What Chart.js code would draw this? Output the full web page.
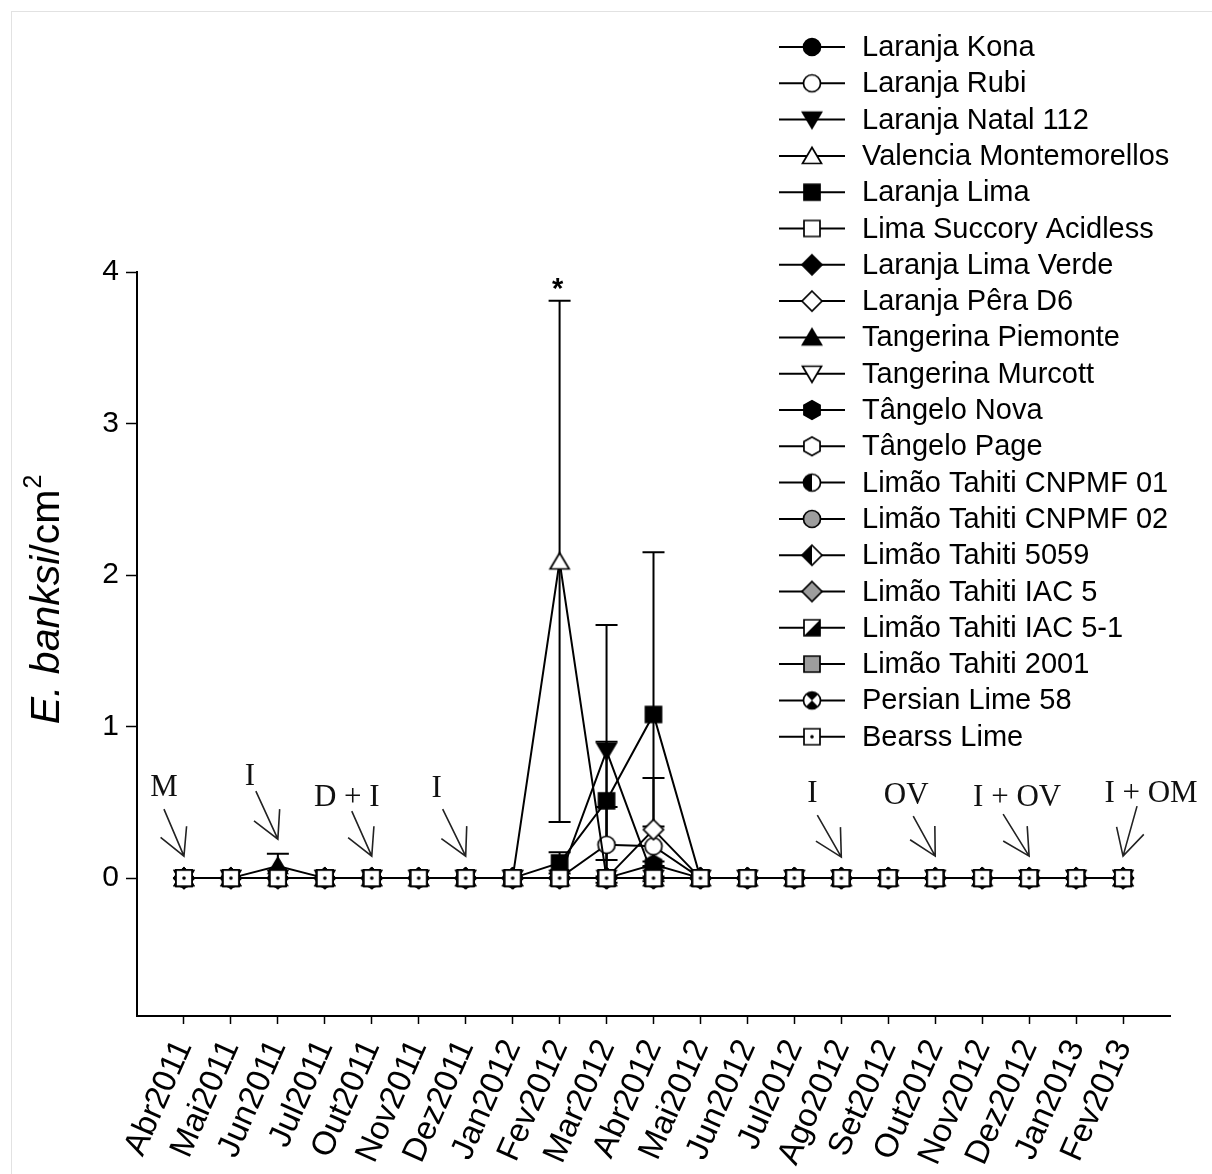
<!DOCTYPE html>
<html>
<head>
<meta charset="utf-8">
<script src="https://cdn.jsdelivr.net/npm/chart.js@4.4.0/dist/chart.umd.min.js"></script>
<style>
html,body{margin:0;padding:0;background:#fff;}
#wrap{position:relative;width:1212px;height:1174px;overflow:hidden;}
#frameL{position:absolute;left:11px;top:11px;width:1px;height:1163px;background:#e2e2e2;}
#frameT{position:absolute;left:11px;top:11px;width:1201px;height:1px;background:#e2e2e2;}
canvas{display:block;position:absolute;left:0;top:0;}
</style>
</head>
<body>
<div id="wrap">
<div id="frameL"></div><div id="frameT"></div>
<canvas id="chart" width="1212" height="1174"></canvas>
</div>
<script>
// ---------------- DATA ----------------
const categories = ['Abr2011','Mai2011','Jun2011','Jul2011','Out2011','Nov2011','Dez2011','Jan2012','Fev2012','Mar2012','Abr2012','Mai2012','Jun2012','Jul2012','Ago2012','Set2012','Out2012','Nov2012','Dez2012','Jan2013','Fev2013'];
const yTickValues = [0, 1, 2, 3, 4];

const seriesNames = ['Laranja Kona','Laranja Rubi','Laranja Natal 112','Valencia Montemorellos','Laranja Lima','Lima Succory Acidless','Laranja Lima Verde','Laranja Pêra D6','Tangerina Piemonte','Tangerina Murcott','Tângelo Nova','Tângelo Page','Limão Tahiti CNPMF 01','Limão Tahiti CNPMF 02','Limão Tahiti 5059','Limão Tahiti IAC 5','Limão Tahiti IAC 5-1','Limão Tahiti 2001','Persian Lime 58','Bearss Lime'];

const konaValues       = [0,0,0,0,0,0,0,0,0,0,0,0,0,0,0,0,0,0,0,0,0];
const rubiValues       = [0,0,0,0,0,0,0,0,0,0.22,0.21,0,0,0,0,0,0,0,0,0,0];
const rubiErrors       = [0,0,0,0,0,0,0,0,0,0.25,0.13,0,0,0,0,0,0,0,0,0,0];
const natalValues      = [0,0,0,0,0,0,0,0,0,0.84,0,0,0,0,0,0,0,0,0,0,0];
const natalErrors      = [0,0,0,0,0,0,0,0,0,0.83,0,0,0,0,0,0,0,0,0,0,0];
const valenciaValues   = [0,0,0,0,0,0,0,0,2.09,0,0,0,0,0,0,0,0,0,0,0,0];
const valenciaErrors   = [0,0,0,0,0,0,0,0,1.72,0,0,0,0,0,0,0,0,0,0,0,0];
const limaValues       = [0,0,0,0,0,0,0,0,0.10,0.51,1.08,0,0,0,0,0,0,0,0,0,0];
const limaErrors       = [0,0,0,0,0,0,0,0,0.07,0.39,1.07,0,0,0,0,0,0,0,0,0,0];
const succoryValues    = [0,0,0,0,0,0,0,0,0,0,0,0,0,0,0,0,0,0,0,0,0];
const limaVerdeValues  = [0,0,0,0,0,0,0,0,0,0,0,0,0,0,0,0,0,0,0,0,0];
const peraValues       = [0,0,0,0,0,0,0,0,0,0,0.32,0,0,0,0,0,0,0,0,0,0];
const peraErrors       = [0,0,0,0,0,0,0,0,0,0,0.34,0,0,0,0,0,0,0,0,0,0];
const piemonteValues   = [0,0,0.08,0,0,0,0,0,0,0,0,0,0,0,0,0,0,0,0,0,0];
const piemonteErrors   = [0,0,0.08,0,0,0,0,0,0,0,0,0,0,0,0,0,0,0,0,0,0];
const murcottValues    = [0,0,0,0,0,0,0,0,0,0,0,0,0,0,0,0,0,0,0,0,0];
const novaValues       = [0,0,0,0,0,0,0,0,0,0,0.09,0,0,0,0,0,0,0,0,0,0];
const novaErrors       = [0,0,0,0,0,0,0,0,0,0,0.02,0,0,0,0,0,0,0,0,0,0];
const pageValues       = [0,0,0,0,0,0,0,0,0,0,0,0,0,0,0,0,0,0,0,0,0];
const cnpmf01Values    = [0,0,0,0,0,0,0,0,0,0,0,0,0,0,0,0,0,0,0,0,0];
const cnpmf02Values    = [0,0,0,0,0,0,0,0,0,0,0,0,0,0,0,0,0,0,0,0,0];
const tahiti5059Values = [0,0,0,0,0,0,0,0,0,0,0,0,0,0,0,0,0,0,0,0,0];
const iac5Values       = [0,0,0,0,0,0,0,0,0,0,0,0,0,0,0,0,0,0,0,0,0];
const iac51Values      = [0,0,0,0,0,0,0,0,0,0,0,0,0,0,0,0,0,0,0,0,0];
const tahiti2001Values = [0,0,0,0,0,0,0,0,0,0,0,0,0,0,0,0,0,0,0,0,0];
const persian58Values  = [0,0,0,0,0,0,0,0,0,0,0,0,0,0,0,0,0,0,0,0,0];
const bearssValues     = [0,0,0,0,0,0,0,0,0,0,0,0,0,0,0,0,0,0,0,0,0];

const annotationLabels     = ['M','I','D + I','I','I','OV','I + OV','I + OM'];
const annotationCategories = ['Abr2011','Jun2011','Out2011','Dez2011','Ago2012','Out2012','Dez2012','Fev2013'];
const significanceText     = '*';
const significanceSeries   = 'Valencia Montemorellos';
const significanceCategory = 'Fev2012';

// ---------------- STYLE / LAYOUT ----------------
const seriesValues = [konaValues,rubiValues,natalValues,valenciaValues,limaValues,succoryValues,limaVerdeValues,peraValues,piemonteValues,murcottValues,novaValues,pageValues,cnpmf01Values,cnpmf02Values,tahiti5059Values,iac5Values,iac51Values,tahiti2001Values,persian58Values,bearssValues];
const seriesErrors = [null,rubiErrors,natalErrors,valenciaErrors,limaErrors,null,null,peraErrors,piemonteErrors,null,novaErrors,null,null,null,null,null,null,null,null,null];
const markerKinds = [
  ['circle','black'],['circle','white'],['triDown','black'],['triUp','white'],
  ['square','black'],['square','white'],['diamond','black'],['diamond','white'],
  ['triUp','black'],['triDown','white'],['hexagon','black'],['hexagon','white'],
  ['circle','halfLeft'],['circle','gray'],['diamond','halfLeft'],['diamond','gray'],
  ['square','diag'],['square','gray'],['circle','crossed'],['square','dot']
];
const GRAY = '#9d9d9d';

function shapePath(g, shape){
  g.beginPath();
  if (shape==='circle'){ g.arc(0,0,8.5,0,Math.PI*2); }
  else if (shape==='square'){ g.rect(-8,-8,16,16); }
  else if (shape==='triUp'){ g.moveTo(0,-8.5); g.lineTo(9.5,7.5); g.lineTo(-9.5,7.5); g.closePath(); }
  else if (shape==='triDown'){ g.moveTo(-9.5,-7.5); g.lineTo(9.5,-7.5); g.lineTo(0,8.5); g.closePath(); }
  else if (shape==='diamond'){ g.moveTo(0,-10); g.lineTo(10,0); g.lineTo(0,10); g.lineTo(-10,0); g.closePath(); }
  else if (shape==='hexagon'){ for(let k=0;k<6;k++){const a=-Math.PI/2+k*Math.PI/3; const px=9.3*Math.cos(a), py=9.3*Math.sin(a); if(k===0) g.moveTo(px,py); else g.lineTo(px,py);} g.closePath(); }
}
function makeMarker(shape, fill){
  const S=26, c=document.createElement('canvas'); c.width=S; c.height=S;
  const g=c.getContext('2d'); g.translate(S/2,S/2);
  g.lineWidth=1.7; g.strokeStyle='#000'; g.lineJoin='miter';
  shapePath(g,shape);
  g.fillStyle = fill==='black' ? '#000' : (fill==='gray' ? GRAY : '#fff');
  g.fill();
  if (fill==='halfLeft' || fill==='diag' || fill==='crossed'){
    g.save(); shapePath(g,shape); g.clip(); g.fillStyle='#000'; g.beginPath();
    if (fill==='halfLeft'){ g.rect(-13,-13,13,26); }
    else if (fill==='diag'){ g.moveTo(8,-8); g.lineTo(8,8); g.lineTo(-8,8); g.closePath(); }
    else { g.moveTo(0,0); g.lineTo(-12,-12); g.lineTo(12,-12); g.closePath(); g.moveTo(0,0); g.lineTo(-12,12); g.lineTo(12,12); g.closePath(); }
    g.fill(); g.restore();
  }
  if (fill==='dot'){ g.beginPath(); g.arc(0,0,1.8,0,Math.PI*2); g.fillStyle='#000'; g.fill(); }
  shapePath(g,shape); g.stroke();
  return c;
}
const markers = markerKinds.map(k=>makeMarker(k[0],k[1]));

const datasets = seriesNames.map((name,i)=>({
  label: name,
  data: seriesValues[i].map((v,j)=>({x:j, y:v})),
  borderColor:'#000', borderWidth:2, backgroundColor:'#000',
  pointStyle: markers[i], pointRadius: 9, pointHoverRadius: 9,
  tension:0, fill:false, order: seriesNames.length-1-i
}));

// Error bars via scales
const errorBarPlugin = {
  id:'errorBars',
  beforeDatasetsDraw(chart){
    const {ctx, scales:{x,y}} = chart;
    ctx.save(); ctx.strokeStyle='#000'; ctx.lineWidth=2;
    seriesErrors.forEach((errs,i)=>{
      if(!errs) return;
      errs.forEach((e,j)=>{
        if(!e) return;
        const v=seriesValues[i][j];
        const px=x.getPixelForValue(j), yt=y.getPixelForValue(v+e), yb=y.getPixelForValue(v-e);
        ctx.beginPath(); ctx.moveTo(px,yt); ctx.lineTo(px,yb);
        ctx.moveTo(px-11,yt); ctx.lineTo(px+11,yt);
        ctx.moveTo(px-11,yb); ctx.lineTo(px+11,yb); ctx.stroke();
      });
    });
    ctx.restore();
  }
};

// Annotation layout (pixel offsets relative to category x and zero line)
const annotationLayout = [
  {dx:-20, by:-82, sx:-20, sy:-47, tip:-22},
  {dx:-28, by:-93, sx:-22, sy:-48, tip:-39},
  {dx:-25, by:-72, sx:-20, sy:-45, tip:-22},
  {dx:-29, by:-81, sx:-23, sy:-47, tip:-22},
  {dx:-29, by:-76, sx:-24, sy:-42, tip:-21},
  {dx:-29, by:-74, sx:-22, sy:-40, tip:-22},
  {dx:-12, by:-72, sx:-26, sy:-42, tip:-22},
  {dx: 28, by:-76, sx: 14, sy:-50, tip:-22}
];
const annotationPlugin = {
  id:'annotations',
  afterDraw(chart){
    const {ctx, scales:{x,y}} = chart;
    const y0 = y.getPixelForValue(0);
    ctx.save();
    ctx.fillStyle='#111'; ctx.strokeStyle='#222'; ctx.lineWidth=1.6;
    ctx.font='31px "Liberation Serif", "Times New Roman", serif';
    ctx.textAlign='center'; ctx.textBaseline='alphabetic';
    annotationLabels.forEach((lab,k)=>{
      const L=annotationLayout[k];
      const cx=x.getPixelForValue(categories.indexOf(annotationCategories[k]));
      ctx.fillText(lab, cx+L.dx, y0+L.by);
      const tx=cx, ty=y0+L.tip;
      const a=Math.atan2(L.sy,L.sx);
      ctx.beginPath();
      ctx.moveTo(tx+L.sx, ty+L.sy); ctx.lineTo(tx,ty);
      ctx.moveTo(tx+30*Math.cos(a-0.49), ty+30*Math.sin(a-0.49)); ctx.lineTo(tx,ty);
      ctx.lineTo(tx+30*Math.cos(a+0.49), ty+30*Math.sin(a+0.49));
      ctx.stroke();
    });
    // significance mark
    const si=seriesNames.indexOf(significanceSeries), sj=categories.indexOf(significanceCategory);
    const top=y.getPixelForValue(seriesValues[si][sj]+seriesErrors[si][sj]);
    ctx.font='bold 29px "Liberation Sans", Arial, sans-serif';
    ctx.fillStyle='#000';
    ctx.fillText(significanceText, x.getPixelForValue(sj)-2, top-3);
    ctx.restore();
  }
};

// Legend & axis title
const legendPlugin = {
  id:'customLegend',
  afterDraw(chart){
    const ctx=chart.ctx;
    ctx.save();
    ctx.font='29px "Liberation Sans", Arial, sans-serif';
    ctx.textAlign='left'; ctx.textBaseline='middle'; ctx.fillStyle='#000';
    seriesNames.forEach((name,i)=>{
      const ry=47+i*36.3;
      ctx.strokeStyle='#000'; ctx.lineWidth=2;
      ctx.beginPath(); ctx.moveTo(779,ry); ctx.lineTo(845,ry); ctx.stroke();
      ctx.drawImage(markers[i], 812-13, ry-13);
      ctx.fillText(name, 862, ry+1);
    });
    // y-axis title
    ctx.translate(44,600); ctx.rotate(-Math.PI/2);
    ctx.textBaseline='alphabetic';
    const f1='italic 41px "Liberation Sans", Arial, sans-serif';
    const f2='41px "Liberation Sans", Arial, sans-serif';
    const f3='25px "Liberation Sans", Arial, sans-serif';
    const p1='E. banksi', p2='/cm', p3='2';
    ctx.font=f1; const w1=ctx.measureText(p1).width;
    ctx.font=f2; const w2=ctx.measureText(p2).width;
    ctx.font=f3; const w3=ctx.measureText(p3).width;
    let sx=-(w1+w2+w3)/2; const base=15;
    ctx.font=f1; ctx.fillText(p1,sx,base); sx+=w1;
    ctx.font=f2; ctx.fillText(p2,sx,base); sx+=w2;
    ctx.font=f3; ctx.fillText(p3,sx+1,base-18);
    ctx.restore();
  }
};

new Chart(document.getElementById('chart'), {
  type:'line',
  data:{ datasets },
  options:{
    responsive:false, devicePixelRatio:1, animation:false,
    layout:{ padding:{ top:272, right:42, left:0, bottom:0 } },
    plugins:{ legend:{display:false}, tooltip:{enabled:false} },
    scales:{
      x:{
        type:'linear', min:-1, max:21,
        afterBuildTicks:(s)=>{ s.ticks = categories.map((c,i)=>({value:i})); },
        afterFit:(s)=>{ s.height = 158; },
        ticks:{ autoSkip:false, minRotation:66, maxRotation:66, padding:10, color:'#000',
          font:{ family:'"Liberation Sans", Arial, sans-serif', size:33 },
          callback:(v)=>categories[v] },
        grid:{ drawOnChartArea:false, drawTicks:true, tickLength:8, tickColor:'#000', tickWidth:1.5 },
        border:{ display:true, color:'#000', width:2 }
      },
      y:{
        type:'linear', min:-0.91, max:4,
        afterBuildTicks:(s)=>{ s.ticks = yTickValues.map(v=>({value:v})); },
        afterFit:(s)=>{ s.width = 137; },
        ticks:{ padding:7, color:'#000',
          font:{ family:'"Liberation Sans", Arial, sans-serif', size:30 },
          callback:(v)=>String(v) },
        grid:{ drawOnChartArea:false, drawTicks:true, tickLength:11, tickColor:'#000', tickWidth:1.5 },
        border:{ display:true, color:'#000', width:2 }
      }
    }
  },
  plugins:[errorBarPlugin, annotationPlugin, legendPlugin]
});
</script>
</body>
</html>
